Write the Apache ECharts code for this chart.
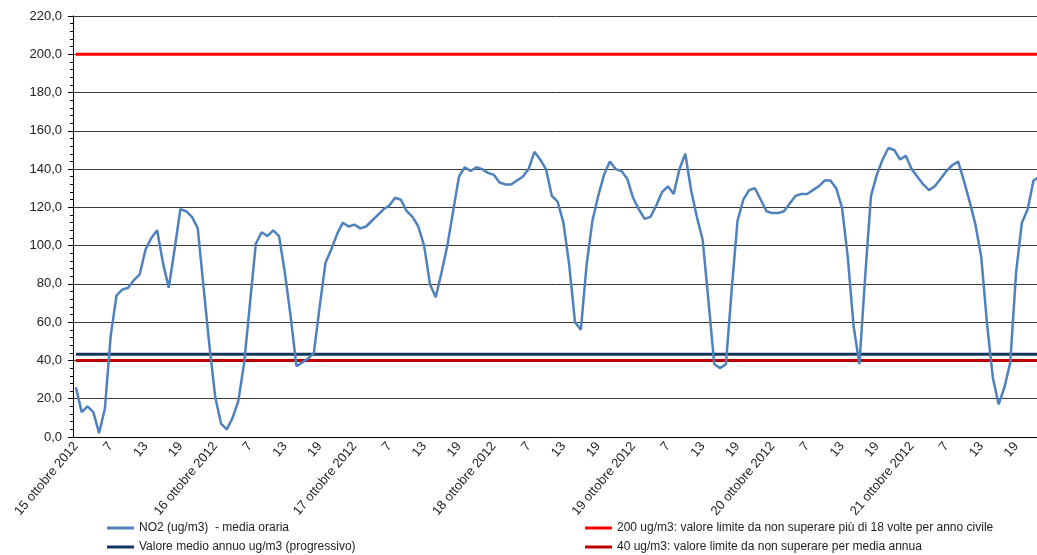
<!DOCTYPE html>
<html>
<head>
<meta charset="utf-8">
<script src="https://cdn.jsdelivr.net/npm/echarts@6/dist/echarts.min.js"></script>
<style>
html,body{margin:0;padding:0;background:#fff;}
#chart{width:1037px;height:555px;}
</style>
</head>
<body>
<div id="chart"></div>
<script>
// ---- data ----
const days = ['15', '16', '17', '18', '19', '20', '21'];
const monthYear = 'ottobre 2012';
const hours = [1, 2, 3, 4, 5, 6, 7, 8, 9, 10, 11, 12, 13, 14, 15, 16, 17, 18, 19, 20, 21, 22, 23, 24];

const no2 = [
  26, 13, 16, 13, 2, 15, 53, 74, 77, 78,
  82, 85, 98, 104, 108, 91, 78, 98, 119, 118,
  115, 109, 78, 48, 21, 7, 4, 10, 19, 39,
  70, 101, 107, 105, 108, 105, 86, 63, 37, 39,
  41, 44, 68, 91, 98, 106, 112, 110, 111, 109,
  110, 113, 116, 119, 121, 125, 124, 118, 115, 110,
  100, 80, 73, 86, 100, 118, 136, 141, 139, 141,
  140, 138, 137, 133, 132, 132, 134, 136, 140, 149,
  145, 140, 126, 123, 112, 90, 60, 56, 90, 113,
  126, 137, 144, 140, 139, 135, 125, 119, 114, 115,
  121, 128, 131, 127, 140, 148, 129, 115, 103, 71,
  38, 36, 38, 77, 113, 124, 129, 130, 124, 118,
  117, 117, 118, 122, 126, 127, 127, 129, 131, 134,
  134, 130, 120, 94, 58, 38, 84, 126, 137, 145,
  151, 150, 145, 147, 140, 136, 132, 129, 131, 135,
  139, 142, 144, 134, 123, 111, 94, 59, 31, 17,
  26, 39, 86, 112, 119, 134, 136, 137
];
const avgValue = 43.2;     // Valore medio annuo (progressivo)
const limitHourly = 200;   // 200 ug/m3
const limitAnnual = 40;    // 40 ug/m3

const seriesNames = [
  'NO2 (ug/m3)  - media oraria',
  'Valore medio annuo ug/m3 (progressivo)',
  '200 ug/m3: valore limite da non superare più di 18 volte per anno civile',
  '40 ug/m3: valore limite da non superare per media annua'
];

// ---- build categories ----
const categories = [];
days.forEach(d => hours.forEach(h => categories.push(h === 1 ? d + ' ' + monthYear : String(h))));
const n = categories.length;
const avgArr = new Array(n).fill(avgValue);
const limHArr = new Array(n).fill(limitHourly);
const limAArr = new Array(n).fill(limitAnnual);

const FONT = '"Liberation Sans", Arial, sans-serif';
function legendItem(name, left, top) {
  return {
    data: [name], orient: 'horizontal', left: left, top: top, padding: 0,
    icon: 'rect', itemWidth: 27, itemHeight: 3, selectedMode: false,
    textStyle: {fontSize: 12, color: '#222', fontFamily: FONT, lineHeight: 14}
  };
}
const chart = echarts.init(document.getElementById('chart'), null, {renderer: 'canvas'});
chart.setOption({
  animation: false,
  backgroundColor: '#ffffff',
  textStyle: {fontFamily: FONT},
  grid: {left: 73, right: -11, top: 16, bottom: 118, containLabel: false, outerBoundsMode: 'none'},
  legend: [
    legendItem(seriesNames[0], 107, 521),
    legendItem(seriesNames[1], 107, 540),
    legendItem(seriesNames[2], 585, 521),
    legendItem(seriesNames[3], 585, 540)
  ],
  xAxis: {
    type: 'category',
    data: categories,
    boundaryGap: true,
    axisLine: {lineStyle: {color: '#000', width: 1}},
    axisTick: {interval: 5, length: 5, lineStyle: {color: '#000'}},
    axisLabel: {interval: 5, rotate: 50, fontSize: 13, color: '#222', margin: 7, fontFamily: FONT}
  },
  yAxis: {
    type: 'value',
    min: 0, max: 220, interval: 20,
    axisLine: {show: true, lineStyle: {color: '#000', width: 1}},
    axisTick: {show: true, length: 5, lineStyle: {color: '#000'}},
    minorTick: {show: true, splitNumber: 5, length: 3, lineStyle: {color: '#000'}},
    splitLine: {show: true, lineStyle: {color: '#3a3a3a', width: 1}},
    axisLabel: {fontSize: 13, color: '#222', margin: 11, fontFamily: FONT,
      formatter: v => v.toFixed(1).replace('.', ',')}
  },
  series: [
    {name: seriesNames[0], type: 'line', data: no2, symbol: 'none', z: 5,
      color: '#4F81BD', lineStyle: {color: '#4F81BD', width: 2.5}},
    {name: seriesNames[1], type: 'line', data: avgArr, symbol: 'none', z: 3,
      color: '#17375E', lineStyle: {color: '#17375E', width: 3}},
    {name: seriesNames[2], type: 'line', data: limHArr, symbol: 'none', z: 3,
      color: '#FF0000', lineStyle: {color: '#FF0000', width: 3}},
    {name: seriesNames[3], type: 'line', data: limAArr, symbol: 'none', z: 3,
      color: '#C00000', lineStyle: {color: '#C00000', width: 3}}
  ]
});
</script>
</body>
</html>
